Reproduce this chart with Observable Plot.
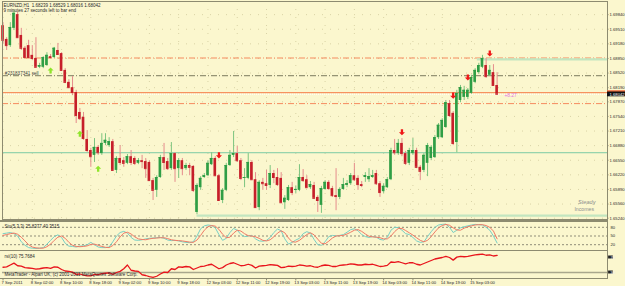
<!DOCTYPE html>
<html><head><meta charset="utf-8">
<script src="https://cdn.jsdelivr.net/npm/d3@7"></script>
<script src="https://cdn.jsdelivr.net/npm/@observablehq/plot@0.6"></script>
<style>
body{margin:0;background:#FBF7CE;}
#wrap{position:relative;width:625px;height:286px;background:#FBF7CE;overflow:hidden;}
#wrap svg{position:absolute;left:0;}
</style></head><body><div id="wrap"></div>
<script>
// ---- data (EURNZD H1) ----
const open=[1.6959,1.6928,1.6914,1.6953,1.6984,1.6937,1.6908,1.6914,1.6892,1.6885,1.6865,1.6865,1.6869,1.6889,1.6887,1.6903,1.6896,1.6858,1.6831,1.6819,1.6808,1.6763,1.6752,1.6702,1.6677,1.6666,1.6684,1.6670,1.6693,1.6688,1.6697,1.6632,1.6659,1.6654,1.6648,1.6663,1.6659,1.6648,1.6654,1.6652,1.6650,1.6609,1.6587,1.6616,1.6661,1.6652,1.6636,1.6670,1.6636,1.6654,1.6636,1.6643,1.6641,1.6537,1.6593,1.6616,1.6620,1.6645,1.6659,1.6620,1.6564,1.6587,1.6643,1.6666,1.6670,1.6654,1.6614,1.6614,1.6650,1.6611,1.6548,1.6605,1.6602,1.6598,1.6625,1.6616,1.6614,1.6559,1.6564,1.6593,1.6587,1.6587,1.6616,1.6611,1.6593,1.6598,1.6571,1.6553,1.6589,1.6605,1.6591,1.6575,1.6571,1.6589,1.6598,1.6602,1.6620,1.6614,1.6600,1.6616,1.6611,1.6616,1.6625,1.6602,1.6584,1.6593,1.6611,1.6677,1.6670,1.6693,1.6670,1.6648,1.6670,1.6677,1.6639,1.6632,1.6648,1.6659,1.6661,1.6706,1.6706,1.6729,1.6783,1.6761,1.6695,1.6790,1.6797,1.6797,1.6806,1.6831,1.6853,1.6865,1.6869,1.6847,1.6853,1.68239];
const high=[1.6966,1.6932,1.6966,1.6993,1.6989,1.6953,1.6912,1.6926,1.6914,1.6932,1.6874,1.6889,1.6898,1.6894,1.6910,1.6919,1.6898,1.6862,1.6837,1.6844,1.6813,1.6772,1.6763,1.6722,1.6682,1.6704,1.6688,1.6715,1.6715,1.6706,1.6702,1.6663,1.6688,1.6661,1.6668,1.6677,1.6663,1.6659,1.6666,1.6659,1.6654,1.6614,1.6620,1.6666,1.6693,1.6659,1.6695,1.6672,1.6659,1.6659,1.6648,1.6648,1.6643,1.6602,1.6618,1.6625,1.6654,1.6672,1.6663,1.6623,1.6591,1.6648,1.6677,1.6720,1.6686,1.6659,1.6636,1.6670,1.6654,1.6627,1.6609,1.6614,1.6632,1.6643,1.6632,1.6636,1.6627,1.6575,1.6598,1.6605,1.6596,1.6645,1.6634,1.6620,1.6607,1.6605,1.6575,1.6596,1.6609,1.6609,1.6596,1.6636,1.6593,1.6614,1.6609,1.6625,1.6648,1.6620,1.6607,1.6627,1.6636,1.6632,1.6632,1.6607,1.6602,1.6616,1.6682,1.6702,1.6702,1.6704,1.6675,1.6682,1.6704,1.6682,1.6643,1.6670,1.6693,1.6688,1.6711,1.6738,1.6749,1.6790,1.6790,1.6765,1.6813,1.6824,1.6822,1.6817,1.6847,1.6862,1.6874,1.6892,1.6885,1.6869,1.6871,1.68529];
const low=[1.6917,1.6903,1.6910,1.6948,1.6930,1.6903,1.6885,1.6885,1.6880,1.6865,1.6862,1.6862,1.6867,1.6885,1.6885,1.6892,1.6856,1.6828,1.6817,1.6801,1.6738,1.6745,1.6700,1.6672,1.6639,1.6650,1.6666,1.6666,1.6688,1.6684,1.6630,1.6625,1.6643,1.6639,1.6645,1.6643,1.6643,1.6645,1.6636,1.6614,1.6607,1.6564,1.6571,1.6614,1.6632,1.6632,1.6632,1.6605,1.6614,1.6620,1.6632,1.6620,1.6582,1.6532,1.6587,1.6614,1.6618,1.6643,1.6618,1.6562,1.6557,1.6584,1.6641,1.6661,1.6650,1.6609,1.6593,1.6611,1.6609,1.6546,1.6541,1.6587,1.6587,1.6591,1.6602,1.6596,1.6557,1.6544,1.6562,1.6575,1.6580,1.6584,1.6605,1.6591,1.6589,1.6566,1.6537,1.6535,1.6587,1.6587,1.6571,1.6541,1.6566,1.6587,1.6593,1.6598,1.6607,1.6587,1.6593,1.6605,1.6605,1.6614,1.6598,1.6571,1.6580,1.6591,1.6609,1.6666,1.6666,1.6663,1.6643,1.6643,1.6666,1.6636,1.6609,1.6627,1.6618,1.6654,1.6659,1.6702,1.6704,1.6727,1.6752,1.6688,1.6672,1.6785,1.6790,1.6792,1.6804,1.6828,1.6849,1.6862,1.6840,1.6844,1.6822,1.68016];
const close=[1.6926,1.6914,1.6955,1.6987,1.6932,1.6908,1.6887,1.6887,1.6885,1.6865,1.6869,1.6887,1.6892,1.6887,1.6908,1.6894,1.6858,1.6831,1.6819,1.6808,1.6756,1.6749,1.6704,1.6677,1.6663,1.6684,1.6672,1.6693,1.6700,1.6697,1.6632,1.6659,1.6650,1.6648,1.6663,1.6650,1.6648,1.6654,1.6652,1.6636,1.6609,1.6587,1.6616,1.6661,1.6650,1.6636,1.6670,1.6636,1.6654,1.6636,1.6643,1.6639,1.6587,1.6598,1.6614,1.6620,1.6648,1.6659,1.6620,1.6564,1.6587,1.6643,1.6666,1.6670,1.6654,1.6614,1.6616,1.6650,1.6611,1.6548,1.6605,1.6602,1.6598,1.6625,1.6616,1.6600,1.6559,1.6569,1.6593,1.6582,1.6589,1.6616,1.6609,1.6593,1.6600,1.6569,1.6564,1.6591,1.6605,1.6591,1.6575,1.6573,1.6589,1.6600,1.6602,1.6620,1.6611,1.6600,1.6598,1.6620,1.6618,1.6620,1.6602,1.6582,1.6596,1.6611,1.6677,1.6672,1.6693,1.6670,1.6648,1.6677,1.6677,1.6639,1.6630,1.6666,1.6688,1.6684,1.6706,1.6734,1.6745,1.6785,1.6756,1.6693,1.6806,1.6819,1.6813,1.6813,1.6842,1.6858,1.6869,1.6885,1.6844,1.6858,1.6824,1.68042];
const stochK=[58,60,62,58,50,30,18,10,8,7,8,10,22,35,48,54,45,25,15,14,12,15,16,20,28,20,12,10,10,12,30,50,62,66,60,45,36,35,37,40,42,43,44,45,42,36,34,35,33,30,28,27,30,50,75,85,88,86,78,55,35,42,62,76,70,55,48,50,52,40,33,32,35,45,62,74,68,40,22,28,36,42,58,65,60,38,20,18,30,48,52,50,52,55,63,72,75,68,55,48,45,48,46,38,36,45,70,80,79,70,58,55,45,33,28,30,48,65,80,88,90,91,80,62,70,78,82,85,88,90,89,88,80,70,50,25.8377];
const stochD=[52,55,58,60,56,46,33,20,12,9,8,8,13,22,35,46,50,42,28,18,14,13,14,16,21,22,18,14,11,10,17,30,47,60,63,57,47,40,38,37,40,42,43,44,44,41,37,35,34,33,31,29,28,36,52,70,82,86,84,73,56,44,46,60,70,67,58,51,50,47,42,35,33,37,47,60,68,61,43,30,29,35,45,55,61,54,39,25,23,32,43,50,51,52,57,63,70,72,66,57,49,47,46,44,40,40,50,65,76,76,69,61,53,44,35,30,35,48,64,78,86,90,87,78,71,70,77,82,85,88,89,89,86,80,67,40.3515];
const rsi=[44,45,50,55,48,47,43,42,41,39,40,42,43,41,45,44,38,34,33,31,25,26,23,21,21,25,24,27,28,29,25,30,33,40,50,36,34,33,24,22,19,17,20,26,31,30,40,38,45,44,46,45,38,42,46,47,50,52,46,40,43,50,54,56,52,48,49,52,49,42,47,48,49,51,50,49,43,44,47,46,47,50,49,47,48,45,44,48,50,49,46,46,49,50,51,53,52,50,50,52,51,52,49,46,47,49,58,57,59,56,53,56,56,52,50,54,58,62,66,68,70,73,70,63,71,73,72,73,75,77,78,79,76,77,74,75.7684];
const timeLabels=["7 Sep 2011","8 Sep 02:00","8 Sep 10:00","8 Sep 18:00","9 Sep 02:00","9 Sep 10:00","9 Sep 18:00","12 Sep 03:00","12 Sep 11:00","12 Sep 19:00","13 Sep 03:00","13 Sep 11:00","13 Sep 19:00","14 Sep 03:00","14 Sep 11:00","14 Sep 19:00","15 Sep 03:00"];
const timeLabelBars=[0,8,16,24,32,40,48,56,64,72,80,88,96,104,112,120,128];
const priceTicks=[1.6984,1.6951,1.6918,1.6885,1.6852,1.6819,1.6787,1.6754,1.6721,1.6688,1.6655,1.6622,1.6589,1.6556,1.6524];
const stochLevels=[80,50,20];
const upArrowBars=[13,21,26], upArrowPrices=[1.6858,1.6715,1.6636];
const downArrowBars=[59,109,123,127,133], downArrowPrices=[1.6666,1.6718,1.6801,1.6842,1.6896];
const orangeDashLevels=[1.6886,1.6783];
const orangeSolidLevel=1.6808;
const orderLevel=1.6846, orderLabel="#231837341 sell";
const tealLevel=1.6672;
const paleGreenLevels=[1.6883,1.6530], paleGreenFrom=[129.6,53];
const bidPrice=1.68042;
const header1="EURNZD,H1  1.68239 1.68529 1.68016 1.68042";
const header2="9 minutes 27 seconds left to bar end";
const profitText="+8.27", profitBar=137, profitPrice=1.6801;
const stoLabel="Sto(5,3,3) 25.8377 40.3515";
const rsiLabel="rsi(10) 75.7684";
const copyright="MetaTrader - Alpari UK, (c) 2001-2011 MetaQuotes Software Corp.";

// ---- drawing ----
const FONT="Liberation Sans, Arial, sans-serif";
const XD=[-0.137,165.16];
const xs={type:"linear",domain:XD,axis:null};
const FRAME="#8d8b70", TXT="#2a2a2a";
const AX=4.2; // axis label font size
const bars=close.map((c,i)=>({i,o:open[i],h:high[i],l:low[i],c,up:c>=open[i]}));
const wrap=document.getElementById("wrap");
function place(svg,top){svg.style.top=top+"px";wrap.appendChild(svg);}
const arrowDown={draw(ctx,size){const s=Math.sqrt(size)/2;ctx.moveTo(-s*0.38,-s);ctx.lineTo(s*0.38,-s);ctx.lineTo(s*0.38,0);ctx.lineTo(s,0);ctx.lineTo(0,s);ctx.lineTo(-s,0);ctx.lineTo(-s*0.38,0);ctx.closePath();}};
const arrowUp={draw(ctx,size){const s=Math.sqrt(size)/2;ctx.moveTo(-s*0.38,s);ctx.lineTo(s*0.38,s);ctx.lineTo(s*0.38,0);ctx.lineTo(s,0);ctx.lineTo(0,-s);ctx.lineTo(-s,0);ctx.lineTo(-s*0.38,0);ctx.closePath();}};
const pxPrice=(1.70137-1.65211)/218;
const pxBar=(XD[1]-XD[0])/605;

const main=Plot.plot({
  width:625,height:220,marginLeft:2,marginRight:18,marginTop:1,marginBottom:1,
  x:xs,y:{domain:[1.65211,1.70137],axis:null},
  style:{background:"transparent",overflow:"visible",fontFamily:FONT},
  marks:[
    Plot.ruleY(priceTicks,{stroke:"#d9d3a6",strokeDasharray:"1,7"}),
    Plot.ruleX(timeLabelBars,{stroke:"#d9d3a6",strokeDasharray:"1,7"}),
    Plot.ruleY(orangeDashLevels,{stroke:"#F58B5E",strokeDasharray:"6,2,1,2"}),
    Plot.ruleY([orderLevel],{stroke:"#7b7a5e",strokeDasharray:"6,2,1,2"}),
    Plot.ruleY([orangeSolidLevel],{stroke:"#F7925F",strokeWidth:1.2}),
    Plot.ruleY([bidPrice],{stroke:"#ffffff",strokeDasharray:"1,1"}),
    Plot.ruleY([tealLevel],{stroke:"#7CCBA4"}),
    Plot.ruleY(paleGreenLevels,{x1:(d,i)=>paleGreenFrom[i],x2:XD[1],stroke:"#c3e6bf",strokeWidth:2.2}),
    Plot.ruleX(bars,{x:"i",y1:"l",y2:"h",stroke:d=>d.up?"#7cc47f":"#e58c8c"}),
    Plot.rect(bars,{x1:d=>d.i-0.36,x2:d=>d.i+0.36,y1:"o",y2:"c",fill:d=>d.up?"#2f9e45":"#c61f2a"}),
    Plot.ruleY(bars,{y:"c",x1:d=>d.i-0.36,x2:d=>d.i+0.36,stroke:d=>d.up?"#2f9e45":"#c61f2a"}),
    Plot.dot(upArrowBars,{x:d=>d,y:(d,i)=>upArrowPrices[i],symbol:arrowUp,r:3.4,fill:"#8fe52a",stroke:null}),
    Plot.dot(downArrowBars,{x:d=>d,y:(d,i)=>downArrowPrices[i],symbol:arrowDown,r:3.4,fill:"#f01818",stroke:null}),
    Plot.text([orderLabel],{x:0.5,y:orderLevel,dy:-2.5,text:d=>d,textAnchor:"start",fontSize:4.6,fill:"#444"}),
    Plot.text([profitText],{x:profitBar,y:profitPrice,text:d=>d,textAnchor:"start",fontSize:4.8,fill:"#e46fe4"}),
    Plot.text(["Steady"],{x:159.5,y:1.6560,text:d=>d,fontSize:5.6,fill:"#8d8f90",fontStyle:"italic"}),
    Plot.text(["Incomes"],{x:158.8,y:1.6544,text:d=>d,fontSize:5.2,fill:"#8d8f90"}),
    Plot.text([header1],{frameAnchor:"top-left",dx:1,dy:2,text:d=>d,fontSize:4.5,fill:TXT,textAnchor:"start"}),
    Plot.text([header2],{frameAnchor:"top-left",dx:1,dy:7,text:d=>d,fontSize:4.5,fill:TXT,textAnchor:"start"}),
    Plot.frame({stroke:FRAME}),
    Plot.ruleY(priceTicks,{x1:XD[1],x2:XD[1]+1.5*pxBar,stroke:FRAME}),
    Plot.text(priceTicks,{frameAnchor:"right",y:d=>d,dx:2,text:d=>d.toFixed(5),textAnchor:"start",fontSize:AX,fill:TXT}),
    Plot.rect([orangeSolidLevel],{x1:XD[1],x2:XD[1]+18*pxBar,y1:d=>d-1.8*pxPrice,y2:d=>d+1.8*pxPrice,fill:"#f26a3a"}),
    Plot.rect([bidPrice],{x1:XD[1],x2:XD[1]+18*pxBar,y1:d=>d-2.6*pxPrice,y2:d=>d+2.2*pxPrice,fill:"#111"}),
    Plot.text([bidPrice],{frameAnchor:"right",y:d=>d,dx:2,text:d=>d.toFixed(5),textAnchor:"start",fontSize:AX,fill:"#fff"})
  ]
});
place(main,0);

const sep=(top,h)=>{const d=document.createElement("div");d.style.cssText=`position:absolute;left:0;top:${top}px;width:608px;height:${h}px;background:${FRAME}`;wrap.appendChild(d);};

const sto=Plot.plot({
  width:625,height:29,marginLeft:2,marginRight:18,marginTop:0,marginBottom:0,
  x:xs,y:{domain:[0,100],axis:null},
  style:{background:"transparent",overflow:"visible",fontFamily:FONT},
  marks:[
    Plot.ruleY(stochLevels,{stroke:"#8f8d78",strokeDasharray:"2,2"}),
    Plot.line(stochK,{x:(d,i)=>i,y:d=>d,stroke:"#78cfc4",strokeWidth:1}),
    Plot.line(stochD,{x:(d,i)=>i,y:d=>d,stroke:"#f07a66",strokeWidth:1}),
    Plot.text([stoLabel],{frameAnchor:"top-left",dx:2,dy:3,text:d=>d,fontSize:4.5,fill:TXT,textAnchor:"start"}),
    Plot.ruleX([XD[1]],{stroke:FRAME}),
    Plot.text(stochLevels,{frameAnchor:"right",y:d=>d,dx:3,text:d=>String(d),textAnchor:"start",fontSize:AX,fill:TXT})
  ]
});
place(sto,221);

const rsiPlot=Plot.plot({
  width:625,height:27,marginLeft:2,marginRight:18,marginTop:0,marginBottom:0,
  x:xs,y:{domain:[14,86],axis:null},
  style:{background:"transparent",overflow:"visible",fontFamily:FONT},
  marks:[
    Plot.ruleY([30],{stroke:"#a9a78c",strokeWidth:1.5}),
    Plot.line(rsi,{x:(d,i)=>i,y:d=>d,stroke:"#e8141c",strokeWidth:1.3}),
    Plot.text([rsiLabel],{frameAnchor:"top-left",dx:2,dy:3,text:d=>d,fontSize:4.5,fill:TXT,textAnchor:"start"}),
    Plot.text([copyright],{frameAnchor:"bottom-left",dx:2,dy:-3,text:d=>d,fontSize:4.5,fill:TXT,textAnchor:"start"}),
    Plot.ruleX([XD[1]],{stroke:FRAME}),
    Plot.rect([70,30],{x1:XD[1]+0.3,x2:XD[1]+1.6,y1:d=>d-4,y2:d=>d+4,fill:"#222"}),
    Plot.text([70,30],{frameAnchor:"right",y:d=>d,dx:3,text:d=>String(d),textAnchor:"start",fontSize:AX,fill:"#eee"})
  ]
});
place(rsiPlot,251);

sep(219.5,2); sep(249.5,1.5); sep(277.5,1);

const timeAx=Plot.plot({
  width:625,height:8,marginLeft:2,marginRight:18,marginTop:0,marginBottom:0,
  x:xs,y:{domain:[0,1],axis:null},
  style:{background:"transparent",overflow:"visible",fontFamily:FONT},
  marks:[
    Plot.ruleX(timeLabelBars,{y1:1,y2:0.7,stroke:FRAME}),
    Plot.text(timeLabels,{x:(d,i)=>timeLabelBars[i],y:0.45,dx:-1.5,text:d=>d,textAnchor:"start",fontSize:4.2,fill:TXT})
  ]
});
place(timeAx,278);
</script></body></html>
